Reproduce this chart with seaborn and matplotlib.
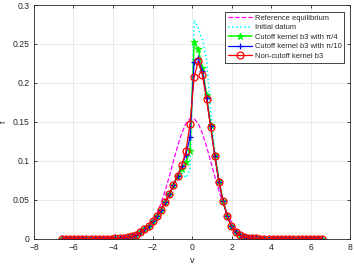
import numpy as np
import pandas as pd
import matplotlib
matplotlib.use("Agg")
import matplotlib.pyplot as plt
import seaborn as sns
from matplotlib.ticker import FormatStrFormatter

# velocity grid (64 points)
v = [-6.600, -6.390, -6.181, -5.971, -5.762, -5.552, -5.343, -5.133,
     -4.924, -4.714, -4.505, -4.295, -4.086, -3.876, -3.667, -3.457,
     -3.248, -3.038, -2.829, -2.619, -2.410, -2.200, -1.990, -1.781,
     -1.571, -1.362, -1.152, -0.943, -0.733, -0.524, -0.314, -0.105,
     0.105, 0.314, 0.524, 0.733, 0.943, 1.152, 1.362, 1.571,
     1.781, 1.990, 2.200, 2.410, 2.619, 2.829, 3.038, 3.248,
     3.457, 3.667, 3.876, 4.086, 4.295, 4.505, 4.714, 4.924,
     5.133, 5.343, 5.552, 5.762, 5.971, 6.181, 6.390, 6.600]

f_equilibrium = [0]*14 + [
    0.0002, 0.0004, 0.0008, 0.0015, 0.0028, 0.0050, 0.0085, 0.0138,
    0.0214, 0.0317, 0.0451, 0.0613, 0.0798, 0.0994, 0.1185, 0.1351,
    0.1476, 0.1541, 0.1541, 0.1476, 0.1351, 0.1185, 0.0994, 0.0798,
    0.0613, 0.0451, 0.0317, 0.0214, 0.0138, 0.0085, 0.0050, 0.0028,
    0.0015, 0.0008, 0.0004, 0.0002] + [0]*14

f_initial = [0]*12 + [
    0.0001, 0.0003, 0.0006, 0.0010, 0.0018, 0.0030, 0.0050, 0.0078,
    0.0115, 0.0160, 0.0215, 0.0280, 0.0355, 0.0450, 0.0550, 0.0660,
    0.0780, 0.0850, 0.0780, 0.0880, 0.2810, 0.2700, 0.2550, 0.2300,
    0.1650, 0.1120, 0.0750, 0.0480, 0.0290, 0.0160, 0.0087, 0.0045,
    0.0022, 0.0010, 0.0004, 0.0002] + [0]*16

f_cut_pi4 = [0]*12 + [
    0.0001, 0.0003, 0.0006, 0.0010, 0.0018, 0.0030, 0.0052, 0.0080,
    0.0118, 0.0165, 0.0220, 0.0285, 0.0365, 0.0465, 0.0570, 0.0690,
    0.0810, 0.0900, 0.0980, 0.1120, 0.2520, 0.2430, 0.2190, 0.1840,
    0.1460, 0.1080, 0.0740, 0.0480, 0.0290, 0.0160, 0.0087, 0.0045,
    0.0022, 0.0010, 0.0004, 0.0002] + [0]*16

f_cut_pi10 = [0]*12 + [
    0.0001, 0.0003, 0.0006, 0.0010, 0.0018, 0.0030, 0.0052, 0.0080,
    0.0118, 0.0165, 0.0220, 0.0285, 0.0365, 0.0465, 0.0570, 0.0690,
    0.0810, 0.0930, 0.1080, 0.1300, 0.2270, 0.2320, 0.2150, 0.1810,
    0.1440, 0.1060, 0.0730, 0.0480, 0.0290, 0.0160, 0.0087, 0.0045,
    0.0022, 0.0010, 0.0004, 0.0002] + [0]*16

f_noncut = [0]*12 + [
    0.0001, 0.0003, 0.0006, 0.0010, 0.0018, 0.0030, 0.0052, 0.0080,
    0.0118, 0.0165, 0.0220, 0.0285, 0.0365, 0.0465, 0.0570, 0.0690,
    0.0810, 0.0940, 0.1120, 0.1470, 0.2070, 0.2280, 0.2100, 0.1790,
    0.1430, 0.1060, 0.0730, 0.0480, 0.0290, 0.0160, 0.0087, 0.0045,
    0.0022, 0.0010, 0.0004, 0.0002] + [0]*16

labels = ["Reference equilibrium", "Initial datum", "Cutoff kernel b3 with \u03c0/4",
          "Cutoff kernel b3 with \u03c0/10", "Non-cutoff kernel b3"]
x_ticks = [-8, -6, -4, -2, 0, 2, 4, 6, 8]
y_ticks = [0, 0.05, 0.1, 0.15, 0.2, 0.25, 0.3]

sns.set_theme(style="ticks")
plt.rcParams['font.family'] = ['Liberation Sans', 'DejaVu Sans']

fig = plt.figure(figsize=(3.54, 2.66), dpi=100)
ax = fig.add_axes([0.096, 0.103, 0.893, 0.878])

dark = '#262626'
common = dict(ax=ax, linewidth=0.9)
sns.lineplot(x=v, y=f_equilibrium, color='#ff00ff', linestyle='--', label=labels[0], **common)
sns.lineplot(x=v, y=f_initial, color='#00ffff', linestyle=':', linewidth=1.1, label=labels[1], ax=ax)
sns.lineplot(x=v, y=f_cut_pi4, color='#00ff00', linestyle='-', marker='*', markersize=5,
             markerfacecolor='#00ff00', markeredgecolor='#00ff00', markeredgewidth=0.8,
             label=labels[2], linewidth=1.1, ax=ax)
sns.lineplot(x=v, y=f_cut_pi10, color='#0000ff', linestyle='-', marker='+', markersize=5,
             markeredgecolor='#0000ff', markeredgewidth=0.9, label=labels[3], **common)
sns.lineplot(x=v, y=f_noncut, color='#ff0000', linestyle='-', marker='o', markersize=5,
             markerfacecolor='none', markeredgecolor='#ff0000', markeredgewidth=0.9,
             label=labels[4], **common)

ax.set_xlim(-8, 8)
ax.set_ylim(0, 0.3)
ax.set_xticks(x_ticks)
ax.set_yticks(y_ticks)
ax.yaxis.set_major_formatter(FormatStrFormatter('%g'))
ax.tick_params(direction='in', length=2.5, width=0.6, labelsize=6.2, colors=dark,
               top=True, right=True, pad=3)
for s in ax.spines.values():
    s.set_visible(True)
    s.set_color(dark)
    s.set_linewidth(0.6)
ax.grid(True, color='#e8e8e8', linewidth=0.6)
ax.set_axisbelow(True)
ax.set_xlabel('v', fontsize=6.5, color=dark, labelpad=3)
ax.set_ylabel('f', fontsize=6.5, color=dark)
ax.yaxis.set_label_coords(-0.082, 0.5)

leg = ax.legend(loc='upper right', bbox_to_anchor=(0.981, 0.970), fontsize=5.4,
                frameon=True, fancybox=False, framealpha=1, borderpad=0.35,
                labelspacing=0.3, handlelength=3.2, handletextpad=0.35, borderaxespad=0)
leg.get_frame().set_edgecolor(dark)
leg.get_frame().set_linewidth(0.6)
for t in leg.get_texts():
    t.set_color(dark)

fig.savefig('out.png', dpi=100)
